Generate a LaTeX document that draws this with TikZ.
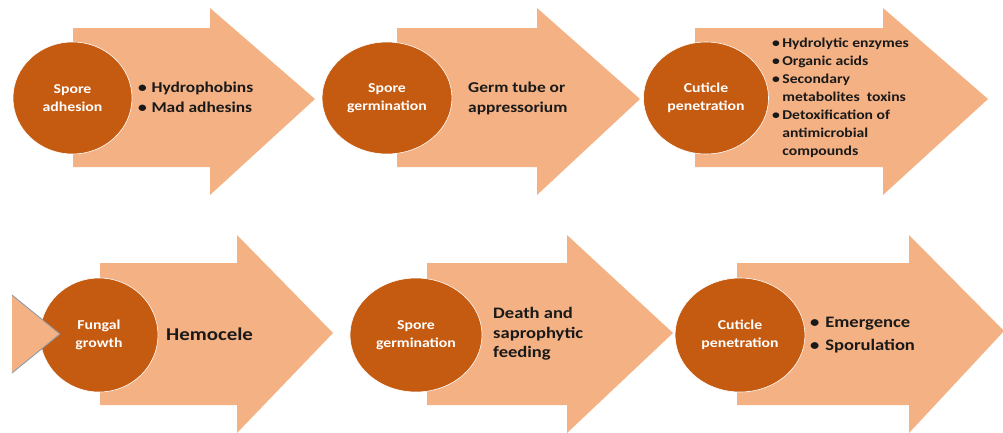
\documentclass[tikz,border=0pt]{standalone}
\usepackage{fontspec}
\setmainfont{Carlito}
\usetikzlibrary{shapes.geometric}
\definecolor{peach}{HTML}{F4B183}
\definecolor{rust}{HTML}{C55A11}
\definecolor{edgegray}{HTML}{8497A8}
\begin{document}
\begin{tikzpicture}[x=1pt,y=-1pt,
  bigarrow/.style={fill=peach},
  disc/.style={ellipse, fill=rust, draw=white, line width=0.6pt, inner sep=0pt, xscale=1.16,
    font=\bfseries\fontsize{13.6}{17.5}\selectfont, text=white, align=center},
  itemtxt/.style={anchor=west, inner sep=0pt, align=left, text=black!90, xscale=1.16,
    font=\bfseries\fontsize{15}{20}\selectfont},
  smalltxt/.style={itemtxt, font=\bfseries\fontsize{13.5}{18}\selectfont},
  midtxt/.style={itemtxt, font=\bfseries\fontsize{16}{19.5}\selectfont},
  bigtxt/.style={itemtxt, font=\bfseries\fontsize{16}{23}\selectfont},
  hemotxt/.style={itemtxt, font=\bfseries\fontsize{18}{24}\selectfont}]
\useasboundingbox (0,0) rectangle (1003,432);

% top row arrows
\fill[bigarrow] (73,28) -- (210,28) -- (210,8) -- (315,99) -- (210,195) -- (210,167) -- (73,167) -- cycle;
\fill[bigarrow] (397,28) -- (537,28) -- (537,8) -- (640,99) -- (537,195) -- (537,167) -- (397,167) -- cycle;
\fill[bigarrow] (695,28) -- (883,28) -- (883,8) -- (988,99) -- (883,195) -- (883,167) -- (695,167) -- cycle;
% bottom row arrows
\fill[bigarrow] (100,263) -- (237,263) -- (237,235) -- (333,333) -- (237,433) -- (237,405) -- (100,405) -- cycle;
\fill[bigarrow] (427,263) -- (567,263) -- (567,235) -- (673,333) -- (567,433) -- (567,405) -- (427,405) -- cycle;
\fill[bigarrow] (737,263) -- (909,263) -- (909,235) -- (1004,331) -- (909,433) -- (909,405) -- (737,405) -- cycle;

% circles (xscale 1.16 applied, widths given unscaled)
\node[disc, minimum width=102.6pt, minimum height=112pt] (c1) at (72.5,98) {Spore\\adhesion};
\node[disc, minimum width=112pt, minimum height=112pt] (c2) at (387,98) {Spore\\germination};
\node[disc, minimum width=107.8pt, minimum height=112pt] (c3) at (706,98) {Cuticle\\penetration};
\node[disc, minimum width=101.7pt, minimum height=114pt] (c4) at (99,335) {Fungal\\growth};
\node[disc, minimum width=113.8pt, minimum height=114pt] (c5) at (416,335) {Spore\\germination};
\node[disc, minimum width=112pt, minimum height=114pt] (c6) at (740,335) {Cuticle\\penetration};

% incoming triangle at left of bottom row
\fill[bigarrow] (12,295) -- (60,334) -- (12,373) -- cycle;
\draw[edgegray, line width=0.8pt] (12,295) -- (60,334) -- (12,373);

% texts
\node[itemtxt] (t1) at (138,98) {\begin{tabular}{@{}l@{\hspace{4pt}}l@{}}\textbullet & Hydrophobins\\ \textbullet & Mad adhesins\end{tabular}};
\node[itemtxt] (t2) at (468,98) {Germ tube or\\appressorium};
\node[smalltxt] (t3) at (772,97.5) {\begin{tabular}{@{}l@{\hspace{2pt}}l@{}}\textbullet & Hydrolytic enzymes\\ \textbullet & Organic acids\\ \textbullet & Secondary\\ & metabolites\ \ toxins\\ \textbullet & Detoxification of\\ & antimicrobial\\ & compounds\end{tabular}};
\node[hemotxt] (t4) at (166,334) {Hemocele};
\node[midtxt] (t5) at (493,334) {Death and\\saprophytic\\feeding};
\node[bigtxt] (t6) at (810,334.5) {\begin{tabular}{@{}l@{\hspace{5pt}}l@{}}\textbullet & Emergence\\ \textbullet & Sporulation\end{tabular}};
\end{tikzpicture}
\end{document}
